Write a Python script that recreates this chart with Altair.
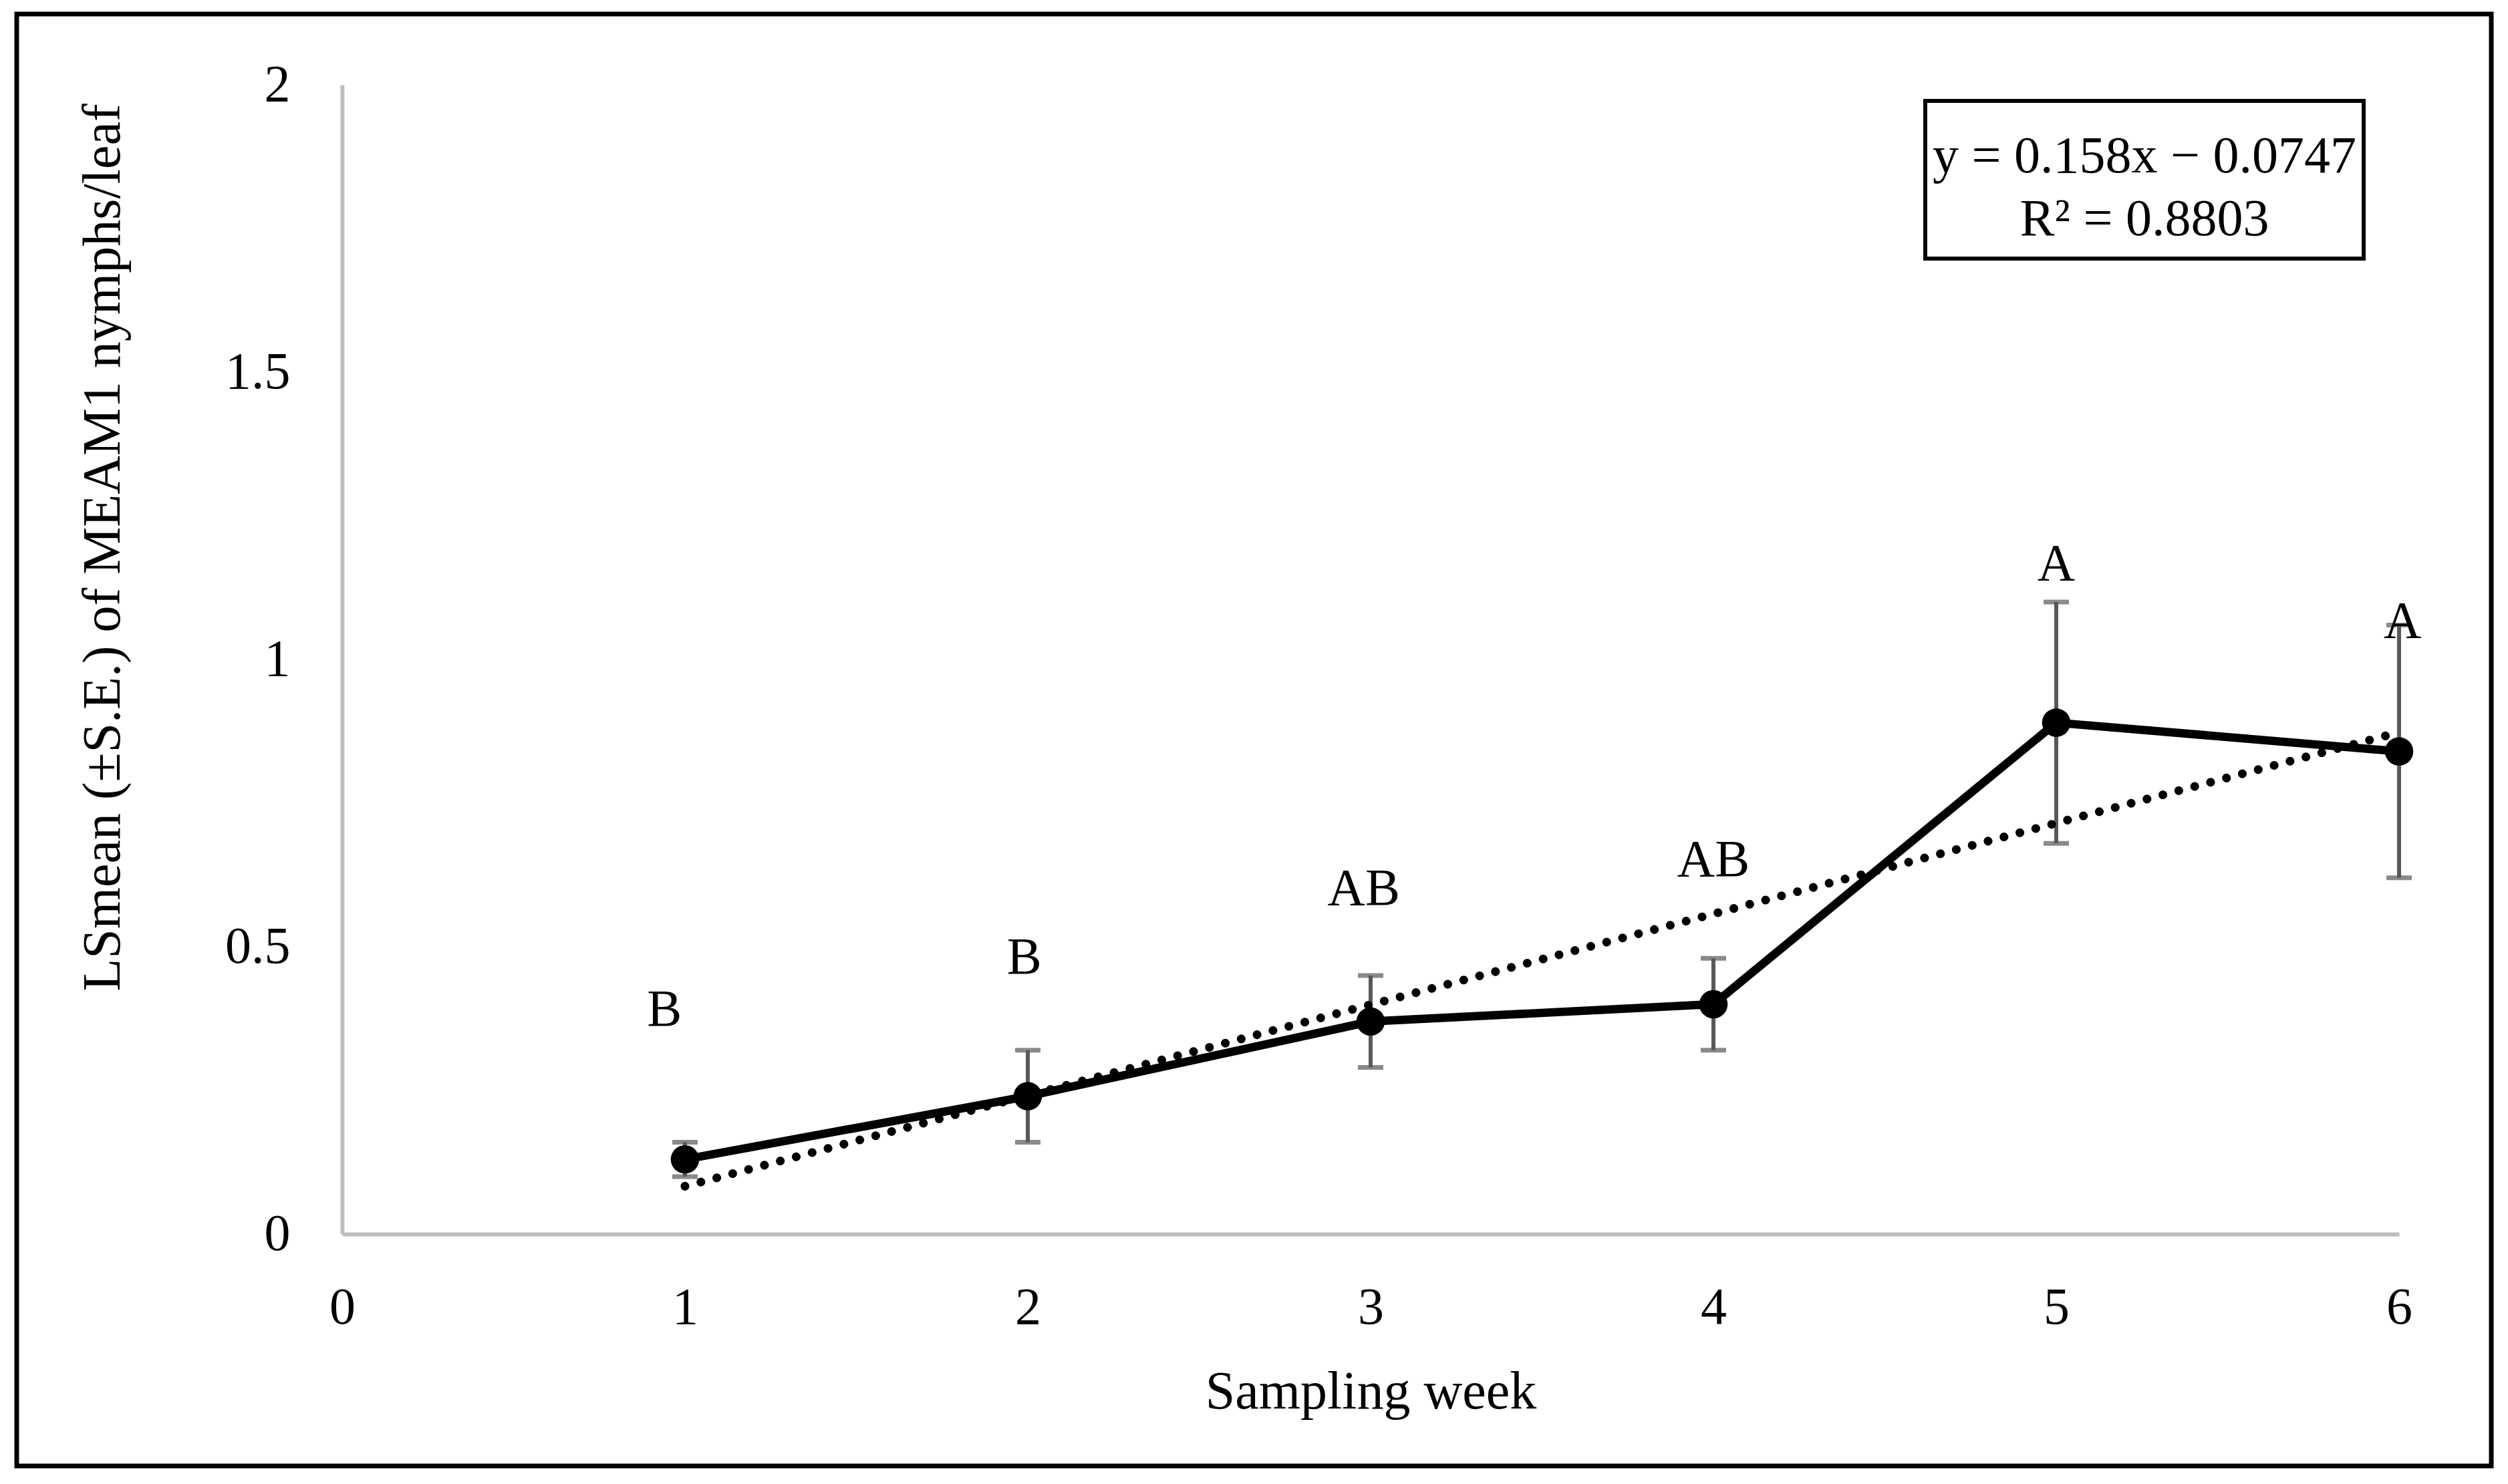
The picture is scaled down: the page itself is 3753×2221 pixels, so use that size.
import altair as alt
import pandas as pd

# ---- data ----
weeks = [1, 2, 3, 4, 5, 6]
lsmean = [0.13, 0.24, 0.37, 0.40, 0.89, 0.84]
se = [0.03, 0.08, 0.08, 0.08, 0.21, 0.22]
letters = ["B", "B", "AB", "AB", "A", "A"]
letter_x = [0.94, 1.99, 2.98, 4.0, 5.0, 6.01]
letter_y = [0.39, 0.48, 0.60, 0.65, 1.165, 1.065]
slope = 0.158
intercept = -0.0747
trend_x = [1, 6]
eq_text = "y = 0.158x \u2212 0.0747"
r2_text = "R\u00b2 = 0.8803"
x_ticks = [0, 1, 2, 3, 4, 5, 6]
y_ticks = [0, 0.5, 1, 1.5, 2]
x_title = "Sampling week"
y_title = "LSmean (\u00b1S.E.) of MEAM1 nymphs/leaf"

FONT = "Liberation Serif"
W, H = 3078, 1720

df = pd.DataFrame({
    "week": weeks,
    "mean": lsmean,
    "lo": [m - s for m, s in zip(lsmean, se)],
    "hi": [m + s for m, s in zip(lsmean, se)],
})
lab = pd.DataFrame({"x": letter_x, "y": letter_y, "t": letters})
trend = pd.DataFrame({"x": trend_x, "y": [slope * v + intercept for v in trend_x]})
one = pd.DataFrame({"k": [0]})

xs = alt.Scale(domain=[0, 6], nice=False, zero=False)
ys = alt.Scale(domain=[0, 2], nice=False)

xaxis = alt.Axis(values=x_ticks, format="d", grid=False, ticks=False, tickSize=0,
                 labelFlush=False,
                 domainColor="#BFBFBF", domainWidth=6, labelFont=FONT, labelFontSize=78,
                 labelColor="black", labelPadding=71, labelBaseline="top",
                 title=x_title, titleFont=FONT, titleFontSize=80, titleFontWeight="normal",
                 titleColor="black", titleX=W / 2, titleY=260, titleAlign="center",
                 titleBaseline="alphabetic")
yaxis = alt.Axis(values=y_ticks, format="~g", grid=False, ticks=False, tickSize=0,
                 labelFlush=False,
                 domainColor="#BFBFBF", domainWidth=6, labelFont=FONT, labelFontSize=78,
                 labelColor="black", labelPadding=78, labelBaseline="middle",
                 title=y_title, titleFont=FONT, titleFontSize=80, titleFontWeight="normal",
                 titleColor="black", titleX=-358, titleY=692, titleAlign="center",
                 titleBaseline="middle", titleAngle=270)

base = alt.Chart(df)

bars = base.mark_rule(color="#595959", strokeWidth=6).encode(
    x=alt.X("week:Q", scale=xs, axis=xaxis),
    y=alt.Y("lo:Q", scale=ys, axis=yaxis),
    y2="hi:Q",
)
cap_lo = base.mark_tick(color="#595959", orient="horizontal", size=38, thickness=7).encode(
    x=alt.X("week:Q", scale=xs), y=alt.Y("lo:Q", scale=ys))
cap_hi = base.mark_tick(color="#595959", orient="horizontal", size=38, thickness=7).encode(
    x=alt.X("week:Q", scale=xs), y=alt.Y("hi:Q", scale=ys))

trend_line = alt.Chart(trend).mark_line(color="black", strokeWidth=13, strokeDash=[0.1, 24.5],
                                        strokeCap="round").encode(
    x=alt.X("x:Q", scale=xs), y=alt.Y("y:Q", scale=ys))

line = base.mark_line(color="black", strokeWidth=12.5).encode(
    x=alt.X("week:Q", scale=xs), y=alt.Y("mean:Q", scale=ys))
pts = base.mark_circle(color="black", size=1810, opacity=1).encode(
    x=alt.X("week:Q", scale=xs), y=alt.Y("mean:Q", scale=ys))

letters_layer = alt.Chart(lab).mark_text(font=FONT, fontSize=78, color="black",
                                         baseline="middle", align="center").encode(
    x=alt.X("x:Q", scale=xs), y=alt.Y("y:Q", scale=ys), text="t:N")

# regression equation box (annotation, pixel placement)
box = alt.Chart(one).mark_rect(fill="white", stroke="black", strokeWidth=6).encode(
    x=alt.value(2369), x2=alt.value(3025), y=alt.value(24), y2=alt.value(260))
eq1 = alt.Chart(one).mark_text(font=FONT, fontSize=78, color="black", align="center",
                               baseline="middle", text=eq_text).encode(
    x=alt.value(2697), y=alt.value(108))
eq2 = alt.Chart(one).mark_text(font=FONT, fontSize=78, color="black", align="center",
                               baseline="middle", text=r2_text).encode(
    x=alt.value(2697), y=alt.value(202))

border = alt.Chart(one).mark_rect(fill=None, stroke="black", strokeWidth=7).encode(
    x=alt.value(-487), x2=alt.value(3216), y=alt.value(-106), y2=alt.value(2067))

chart = alt.layer(
    border, bars, cap_lo, cap_hi, trend_line, line, pts, letters_layer, box, eq1, eq2
).properties(
    width=W, height=H,
    autosize=alt.AutoSizeParams(type="none"),
    padding={"left": 504, "top": 119, "right": 150, "bottom": 355},
    background="white",
).configure_view(stroke=None)

chart.save("out.html", embed_options={"renderer": "svg", "actions": False})
